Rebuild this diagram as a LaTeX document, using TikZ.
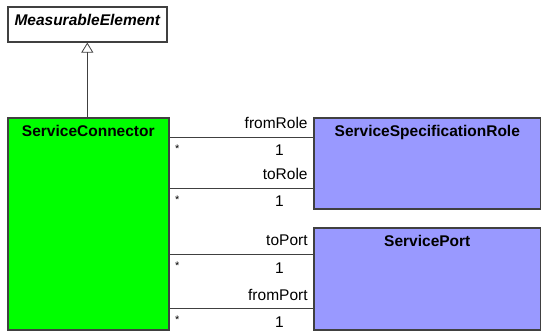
\documentclass[tikz,border=0pt]{standalone}
\usepackage{fontspec}
\setmainfont{Liberation Sans}
\usetikzlibrary{positioning,arrows.meta}
\definecolor{classgreen}{RGB}{0,255,0}
\definecolor{classblue}{RGB}{153,153,255}
\definecolor{edgegray}{RGB}{64,64,64}

\begin{document}
\begin{tikzpicture}[x=1pt, y=-1pt,
  classbox/.style={draw=edgegray, line width=1.6pt, anchor=north west, inner sep=0pt},
  title/.style={anchor=base, font=\fontsize{15.5}{18}\selectfont\bfseries},
  assoc/.style={draw=edgegray, line width=0.8pt},
  rolename/.style={at end, anchor=base east, inner sep=0pt, xshift=-5pt, yshift=8pt, font=\fontsize{15.5}{18}\selectfont},
  mult/.style={at end, anchor=base, inner sep=0pt, xshift=-33.5pt, yshift=-19pt, font=\fontsize{15.5}{18}\selectfont},
  many/.style={at start, anchor=north west, inner sep=0pt, xshift=5pt, yshift=-8pt, font=\fontsize{11}{12}\selectfont},
  gen/.style={draw=edgegray, line width=0.8pt, -{Triangle[open, length=10pt, width=12pt, line width=0.8pt]}}
]
\useasboundingbox (0,0) rectangle (541,331);

% classes
\node[classbox, fill=white, minimum width=159pt, minimum height=35pt] (me) at (7,6) {};
\node[title, font=\fontsize{15.5}{18}\selectfont\bfseries\itshape] (metitle) at ([yshift=-20pt]me.north) {MeasurableElement};

\node[classbox, fill=classgreen, minimum width=161pt, minimum height=212pt] (sc) at (7,117) {};
\node[title] (sctitle) at ([yshift=-20pt]sc.north) {ServiceConnector};

\node[classbox, fill=classblue, minimum width=227pt, minimum height=91pt] (ssr) at (313,117) {};
\node[title] (ssrtitle) at ([yshift=-20pt]ssr.north) {ServiceSpecificationRole};

\node[classbox, fill=classblue, minimum width=227pt, minimum height=102pt] (sp) at (313,227) {};
\node[title] (sptitle) at ([yshift=-20pt]sp.north) {ServicePort};

% generalization
\draw[gen] (me.south |- sc.north) -- (me.south);

% associations
\draw[assoc] ([yshift=-20pt]sc.north east) -- ([yshift=-20pt]ssr.north west)
  node[rolename] (r1) {fromRole} node[mult] (m1) {1} node[many] (s1) {*};
\draw[assoc] ([yshift=-71pt]sc.north east) -- ([yshift=-71pt]ssr.north west)
  node[rolename] (r2) {toRole} node[mult] (m2) {1} node[many] (s2) {*};
\draw[assoc] ([yshift=-137pt]sc.north east) -- ([yshift=-27pt]sp.north west)
  node[rolename] (r3) {toPort} node[mult] (m3) {1} node[many] (s3) {*};
\draw[assoc] ([yshift=-191pt]sc.north east) -- ([yshift=-81pt]sp.north west)
  node[rolename] (r4) {fromPort} node[mult] (m4) {1} node[many] (s4) {*};
\end{tikzpicture}
\end{document}
